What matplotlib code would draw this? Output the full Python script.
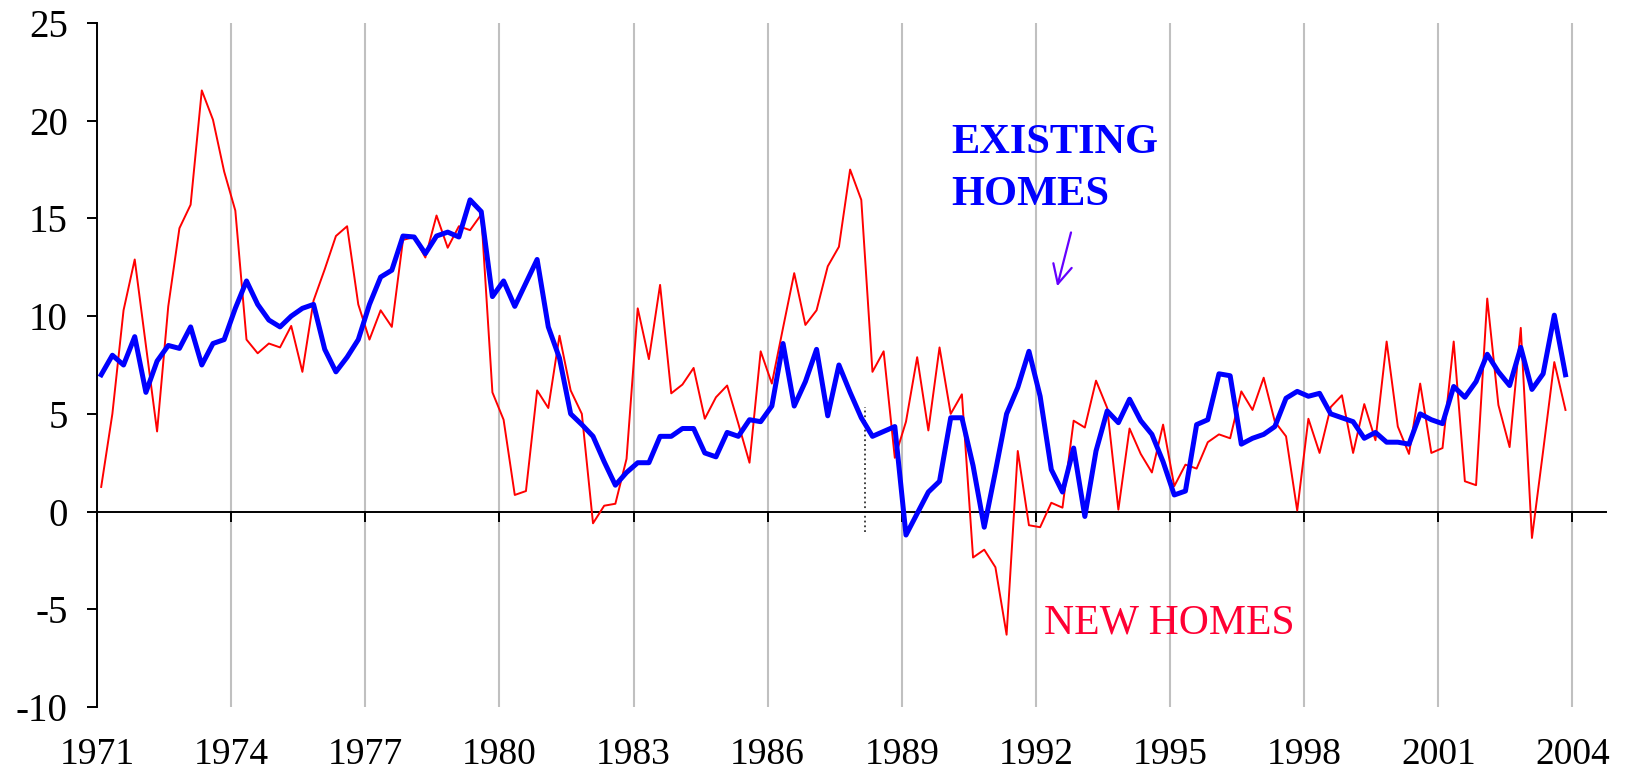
import numpy as np
import matplotlib
matplotlib.use("Agg")
from matplotlib import pyplot as plt

plt.rcParams["axes.unicode_minus"] = False

# quarterly % change, 1971Q1 .. 2003Q4
new_homes = [1.26, 5.0, 10.3, 12.9, 8.5, 4.1, 10.5, 14.5, 15.7, 21.55, 20.05, 17.4,
             15.4, 8.8, 8.1, 8.6, 8.4, 9.5, 7.15, 10.8, 12.4, 14.1, 14.6, 10.6, 8.8,
             10.3, 9.45, 13.9, 14.05, 13.0, 15.15, 13.5, 14.6, 14.4, 15.2, 6.1, 4.7,
             0.85, 1.05, 6.2, 5.3, 9.0, 6.2, 5.0, -0.6, 0.3, 0.4, 2.7,
             10.4, 7.8, 11.6, 6.05, 6.5, 7.35, 4.75, 5.85, 6.45, 4.5, 2.5, 8.2,
             6.55, 9.4, 12.2, 9.55, 10.3, 12.55, 13.55, 17.5, 15.95, 7.15, 8.2,
             2.75, 4.6, 7.9, 4.15, 8.4, 5.0, 6.0, -2.35, -1.95, -2.85, -6.3, 3.1,
             -0.7, -0.8, 0.45, 0.2, 4.65, 4.3, 6.7, 5.3, 0.1, 4.25, 2.95,
             2.0, 4.45, 1.3, 2.4, 2.2, 3.55, 3.95, 3.75, 6.15, 5.2, 6.85, 4.6,
             3.85, 0.05, 4.75, 3.0, 5.35, 5.95, 3.0, 5.5, 3.65, 8.7, 4.35, 2.95,
             6.55, 3.0, 3.25, 8.7, 1.55, 1.35, 10.9, 5.45, 3.3, 9.4, -1.35, 3.1,
             7.65, 5.2]
existing_homes = [7.0, 8.0, 7.5, 8.95, 6.1, 7.7, 8.5, 8.35, 9.45, 7.5, 8.6, 8.8,
                  10.4, 11.8, 10.6, 9.8, 9.45, 10.0, 10.4, 10.6, 8.3, 7.15, 7.9, 8.8, 10.6,
                  12.0, 12.35, 14.1, 14.05, 13.2, 14.1, 14.3, 14.05, 15.95, 15.35, 11.0, 11.8,
                  10.5, 11.7, 12.9, 9.45, 7.85, 5.0, 4.45, 3.85, 2.55, 1.35, 2.0,
                  2.5, 2.5, 3.85, 3.85, 4.25, 4.25, 3.0, 2.8, 4.05, 3.85, 4.7, 4.6,
                  5.4, 8.6, 5.4, 6.65, 8.3, 4.9, 7.5, 6.1, 4.8, 3.85, 4.1,
                  4.35, -1.2, -0.1, 1.0, 1.55, 4.8, 4.8, 2.35, -0.8, 2.05, 5.0, 6.35,
                  8.2, 5.9, 2.15, 1.0, 3.25, -0.25, 3.1, 5.15, 4.55, 5.75, 4.65,
                  3.95, 2.55, 0.85, 1.05, 4.45, 4.7, 7.05, 6.95, 3.45, 3.75, 3.95, 4.35,
                  5.8, 6.15, 5.9, 6.05, 5.0, 4.8, 4.6, 3.75, 4.05, 3.55, 3.55, 3.45,
                  5.0, 4.7, 4.5, 6.4, 5.85, 6.65, 8.05, 7.15, 6.45, 8.4, 6.25, 7.05,
                  10.05, 7.0]
year_ticks = list(range(1971, 2005, 3))
y_ticks = list(range(-10, 26, 5))

x = 1971 + (np.arange(len(new_homes)) + 0.375) / 4

serif = "Liberation Serif"

fig = plt.figure(figsize=(16.38, 7.76), dpi=100)
ax = fig.add_axes([97 / 1638, 69 / 776, 1509 / 1638, 684 / 776])

ax.plot(x, new_homes, color="#ff0000", lw=1.4, zorder=3)
ax.plot(x, existing_homes, color="#0000ff", lw=3.6, zorder=4)

ax.set_xlim(1971, 2004.75)
ax.set_ylim(-10, 25)
ax.set_xticks(year_ticks)
ax.set_yticks(y_ticks)
ax.grid(axis="x", color="#c0c0c0", lw=1.5, zorder=0)

for s in ["top", "right"]:
    ax.spines[s].set_visible(False)
ax.spines["bottom"].set_position(("data", 0))
ax.spines["bottom"].set_linewidth(1.4)
ax.spines["left"].set_linewidth(1.4)
ax.tick_params(axis="x", direction="out", length=7, width=1.4, labelbottom=False)
ax.tick_params(axis="y", direction="out", length=7, width=1.4, pad=14)
for lab in ax.get_yticklabels():
    lab.set_fontfamily(serif)
    lab.set_fontsize(28)

sec = ax.secondary_xaxis(0.0)
sec.set_xticks(year_ticks)
sec.tick_params(length=0, pad=22)
sec.spines["bottom"].set_visible(False)
for lab in sec.get_xticklabels():
    lab.set_fontfamily(serif)
    lab.set_fontsize(27)

# dotted marker line
ax.plot([1988.17, 1988.17], [-1.05, 5.35], ls=":", color="#333333", lw=1.3, zorder=2)

ax.text(1990.11, 18.36, "EXISTING", color="#0000ff", fontsize=30.5, fontweight="bold",
        family=serif, va="baseline", ha="left")
ax.text(1990.11, 15.7, "HOMES", color="#0000ff", fontsize=30.5, fontweight="bold",
        family=serif, va="baseline", ha="left")
ax.annotate("", xy=(1992.46, 11.39), xytext=(1992.80, 14.42),
            arrowprops=dict(arrowstyle="->", color="#6600ff", lw=1.6, mutation_scale=34))
ax.text(1992.17, -6.23, "NEW HOMES", color="#ff0033", fontsize=30, family=serif,
        va="baseline", ha="left")

fig.savefig("out.png", dpi=100)
